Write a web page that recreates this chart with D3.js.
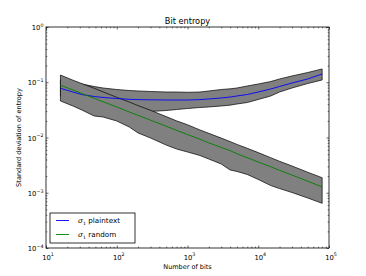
<!DOCTYPE html>
<html>
<head>
<meta charset="utf-8">
<script src="https://cdn.jsdelivr.net/npm/d3@7"></script>
<style>
  body { margin: 0; background: #fff; }
  text { font-family: "DejaVu Sans", sans-serif; }
</style>
</head>
<body>
<div id="chart"></div>
<script>
// number of bits (shared x values)
var bits = [16, 24, 32, 48, 64, 100, 150, 200, 300, 500, 700, 1000, 1500, 2000, 3000, 4000, 5000, 7000, 10000, 15000, 20000, 30000, 50000, 80000];

// sigma_1 plaintext: mean and band
var plainMean  = [0.0778, 0.0666, 0.060, 0.0552, 0.053, 0.0508, 0.0491, 0.0485, 0.0481, 0.0477, 0.0477, 0.0477, 0.0485, 0.0498, 0.0519, 0.054, 0.0564, 0.060, 0.0666, 0.0755, 0.0838, 0.0969, 0.1146, 0.141];
var plainUpper = [0.110, 0.101, 0.093, 0.0838, 0.0787, 0.0739, 0.0709, 0.0695, 0.068, 0.0666, 0.0666, 0.0658, 0.0666, 0.0695, 0.0739, 0.076, 0.0787, 0.0855, 0.093, 0.103, 0.1146, 0.130, 0.150, 0.174];
var plainLower = [0.0564, 0.0458, 0.0404, 0.0357, 0.0328, 0.0308, 0.0296, 0.029, 0.0296, 0.0308, 0.0321, 0.0335, 0.0349, 0.0357, 0.0372, 0.0385, 0.0404, 0.043, 0.0488, 0.0564, 0.0666, 0.0787, 0.0948, 0.110];

// sigma_1 random: mean and band
var randMean  = [0.0885, 0.0724, 0.0626, 0.0512, 0.0445, 0.0357, 0.029, 0.0252, 0.0206, 0.016, 0.0135, 0.0113, 0.0093, 0.008, 0.0066, 0.00579, 0.0051, 0.0043, 0.0036, 0.00295, 0.00255, 0.00209, 0.00162, 0.00127];
var randUpper = [0.135, 0.109, 0.0946, 0.0777, 0.0669, 0.0534, 0.0439, 0.0378, 0.0311, 0.0239, 0.020, 0.017, 0.0137, 0.0119, 0.00975, 0.00844, 0.0075, 0.00637, 0.00533, 0.00431, 0.00371, 0.00305, 0.00235, 0.00187];
var randLower = [0.0458, 0.0372, 0.0315, 0.0245, 0.0235, 0.0199, 0.0155, 0.0121, 0.0098, 0.0073, 0.0062, 0.00547, 0.00472, 0.00408, 0.00331, 0.00258, 0.00243, 0.00214, 0.00174, 0.00135, 0.00119, 0.00101, 0.000804, 0.000644];

var xMajor = [1, 2, 3, 4, 5];    // exponents of 10
var yMajor = [0, -1, -2, -3, -4];

var W = 366, H = 276;
var plotL = 46, plotR = 329, plotT = 27, plotB = 248;

var svg = d3.select("#chart").append("svg").attr("width", W).attr("height", H);

var x = d3.scaleLog().domain([10, 1e5]).range([plotL, plotR]);
var y = d3.scaleLog().domain([1e-4, 1]).range([plotB, plotT]);

function rows(lo, hi) {
    return bits.map(function (b, i) { return { b: b, lo: lo[i], hi: hi[i] } });
}

var area = d3.area().x(d => x(d.b)).y0(d => y(d.lo)).y1(d => y(d.hi));
var line = d3.line().x(d => x(d[0])).y(d => y(d[1]));

var plot = svg.append("g");

// bands: plaintext first, random on top of it
plot.append("path").datum(rows(plainLower, plainUpper))
    .attr("d", area).attr("fill", "#808080").attr("stroke", "#000").attr("stroke-width", 0.7);
plot.append("path").datum(rows(randLower, randUpper))
    .attr("d", area).attr("fill", "#808080").attr("stroke", "#000").attr("stroke-width", 0.7);

plot.append("path").datum(d3.zip(bits, plainMean))
    .attr("d", line).attr("fill", "none").attr("stroke", "#0000ff").attr("stroke-width", 0.9);
plot.append("path").datum(d3.zip(bits, randMean))
    .attr("d", line).attr("fill", "none").attr("stroke", "#008000").attr("stroke-width", 0.9);

// minor tick values
function minors(lo, hi) {
    var out = [];
    for (var e = lo; e < hi; e++)
        for (var m = 2; m <= 9; m++) out.push(m * Math.pow(10, e));
    return out;
}
var xMinor = minors(1, 5), yMinor = minors(-4, 0);
var xMajV = xMajor.map(e => Math.pow(10, e)), yMajV = yMajor.map(e => Math.pow(10, e));

function drawAxis(axisFn, scale, vals, size, tr) {
    var g = svg.append("g").attr("transform", tr)
        .call(axisFn(scale).tickValues(vals).tickSize(size).tickFormat(""));
    g.select(".domain").remove();
    g.selectAll("line").attr("stroke", "#000").attr("stroke-width", 0.6);
}
// ticks point inwards on all four sides
drawAxis(d3.axisBottom, x, xMajV, -2.5, `translate(0,${plotB})`);
drawAxis(d3.axisBottom, x, xMinor, -1.3, `translate(0,${plotB})`);
drawAxis(d3.axisTop, x, xMajV, -2.5, `translate(0,${plotT})`);
drawAxis(d3.axisTop, x, xMinor, -1.3, `translate(0,${plotT})`);
drawAxis(d3.axisLeft, y, yMajV, -2.5, `translate(${plotL},0)`);
drawAxis(d3.axisLeft, y, yMinor, -1.3, `translate(${plotL},0)`);
drawAxis(d3.axisRight, y, yMajV, -2.5, `translate(${plotR},0)`);
drawAxis(d3.axisRight, y, yMinor, -1.3, `translate(${plotR},0)`);

svg.append("rect").attr("x", plotL).attr("y", plotT)
    .attr("width", plotR - plotL).attr("height", plotB - plotT)
    .attr("fill", "none").attr("stroke", "#000").attr("stroke-width", 0.8);

// tick labels 10^n
function powLabel(g, e) {
    g.append("tspan").text("10");
    g.append("tspan").attr("dy", -3.2).attr("font-size", 4.8).text(e);
}
xMajor.forEach(function (e) {
    var t = svg.append("text").attr("x", x(Math.pow(10, e)) + 2).attr("y", 259.5)
        .attr("text-anchor", "middle").attr("font-size", 6.8).attr("fill", "#000");
    powLabel(t, e);
});
yMajor.forEach(function (e) {
    var t = svg.append("text").attr("x", plotL - 2.5).attr("y", y(Math.pow(10, e)) + 3)
        .attr("text-anchor", "end").attr("font-size", 6.8).attr("fill", "#000");
    powLabel(t, e < 0 ? "\u2212" + (-e) : e);
});

svg.append("text").attr("x", (plotL + plotR) / 2).attr("y", 23.5)
    .attr("text-anchor", "middle").attr("font-size", 8.2).text("Bit entropy");
svg.append("text").attr("x", (plotL + plotR) / 2).attr("y", 269)
    .attr("text-anchor", "middle").attr("font-size", 6.5).text("Number of bits");
svg.append("text").attr("transform", `translate(21,${(plotT + plotB) / 2}) rotate(-90)`)
    .attr("text-anchor", "middle").attr("font-size", 6.6).text("Standard deviation of entropy");

// legend
var legend = svg.append("g");
legend.append("rect").attr("x", 50).attr("y", 213).attr("width", 85).attr("height", 30)
    .attr("fill", "#fff").attr("stroke", "#000").attr("stroke-width", 0.8);
var entries = [["plaintext", "#0000ff"], ["random", "#008000"]];
entries.forEach(function (d, i) {
    var ly = 220.5 + i * 14;
    legend.append("line").attr("x1", 56).attr("x2", 69).attr("y1", ly).attr("y2", ly)
        .attr("stroke", d[1]).attr("stroke-width", 0.9);
    var t = legend.append("text").attr("x", 78).attr("y", ly + 2.5).attr("font-size", 7.2);
    t.append("tspan").attr("font-family", "DejaVu Serif").attr("font-style", "italic").text("\u03c3");
    t.append("tspan").attr("dy", 1.5).attr("font-size", 4.5).text("1");
    t.append("tspan").attr("dy", -1.5).attr("dx", 2.5).text(d[0]);
});
</script>
</body>
</html>
